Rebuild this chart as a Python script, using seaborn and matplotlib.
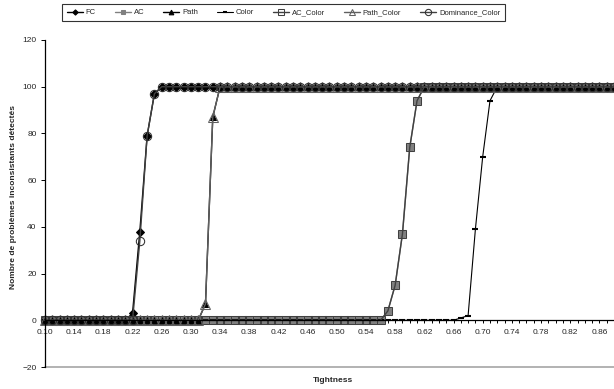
import numpy as np
import matplotlib
matplotlib.use("Agg")
import matplotlib.pyplot as plt
import seaborn as sns

# ---------------- data ----------------
tightness = [round(0.10 + 0.01 * k, 2) for k in range(79)]  # 0.10 .. 0.88 categories

fc = [0] * 12 + [3, 38, 79, 97] + [100] * 63
ac = [0] * 47 + [4, 15, 37, 74, 94] + [100] * 27
path = [0] * 22 + [7, 87] + [100] * 55
color = [0] * 57 + [1, 2, 39, 70, 94] + [100] * 17
ac_color = [0] * 47 + [4, 15, 37, 74, 94] + [100] * 27
path_color = [0] * 22 + [7, 87] + [100] * 55
dominance_color = [0] * 13 + [34, 79, 97] + [100] * 63

series_names = ["FC", "AC", "Path", "Color", "AC_Color", "Path_Color", "Dominance_Color"]
tick_labels = ["%.2f" % t for t in tightness]

# ---------------- style ----------------
sns.set_style("white")
plt.rcParams["font.family"] = ["Liberation Sans", "DejaVu Sans"]

fig = plt.figure(figsize=(6.14, 3.89), dpi=100)
ax = fig.add_axes([45 / 614, 1 - 367 / 389, 1 - 45 / 614, (367 - 40) / 389])

styles = {
    "FC": dict(color="black", marker="D", markerfacecolor="black", markeredgecolor="black", markersize=3.6, lw=1.0),
    "AC": dict(color="#808080", marker="s", markerfacecolor="#808080", markeredgecolor="#808080", markersize=4, lw=1.0),
    "Path": dict(color="black", marker="^", markerfacecolor="black", markeredgecolor="black", markersize=4.5, lw=1.0),
    "Color": dict(color="black", marker="_", markerfacecolor="black", markeredgecolor="black", markersize=4, lw=0.8, markeredgewidth=1.5),
    "AC_Color": dict(color="#404040", marker="s", markerfacecolor="none", markeredgecolor="#404040", markersize=5.5, lw=1.0),
    "Path_Color": dict(color="#606060", marker="^", markerfacecolor="none", markeredgecolor="#606060", markersize=6.5, lw=1.0),
    "Dominance_Color": dict(color="#404040", marker="o", markerfacecolor="none", markeredgecolor="#303030", markersize=6, lw=1.0),
}
values = {
    "FC": fc, "AC": ac, "Path": path, "Color": color,
    "AC_Color": ac_color, "Path_Color": path_color, "Dominance_Color": dominance_color,
}

for name in series_names:
    st = dict(styles[name])
    lw = st.pop("lw")
    sns.lineplot(x=tightness, y=values[name], ax=ax, label=name, linewidth=lw,
                 clip_on=False, legend=False, **st)

# ---------------- axes ----------------
step = 0.01
ax.set_xlim(tightness[0], tightness[0] + 77.6 * step)
ax.set_ylim(-20, 120)
ax.set_yticks([-20, 0, 20, 40, 60, 80, 100, 120])
ax.set_xticks(tightness)
ax.set_xticklabels([lab if k % 4 == 0 else "" for k, lab in enumerate(tick_labels)])

for s in ["top", "right"]:
    ax.spines[s].set_visible(False)
ax.spines["bottom"].set_position(("data", 0))
ax.spines["bottom"].set_color("black")
ax.spines["bottom"].set_linewidth(0.9)
ax.spines["left"].set_color("black")
ax.spines["left"].set_linewidth(0.9)
ax.axhline(-20, color="#a6a6a6", lw=1.2, clip_on=False, zorder=0)

ax.tick_params(axis="x", direction="out", length=2.5, width=0.7, color="black",
               labelsize=6, pad=4, bottom=True)
ax.tick_params(axis="y", direction="out", length=3, width=0.7, color="black",
               labelsize=6, pad=3, left=True)

fig.text(14 / 614, 1 - 197 / 389, "Nombre de problèmes inconsistants détectés",
         rotation=90, ha="center", va="center", fontsize=6, fontweight="bold")
fig.text(333 / 614, 1 - 381 / 389, "Tightness", ha="center", va="center",
         fontsize=6, fontweight="bold")

handles, labels = ax.get_legend_handles_labels()
leg = fig.legend(handles, labels, loc="center", ncol=7,
                 bbox_to_anchor=(283.5 / 614, 1 - 12.5 / 389),
                 fontsize=5.5, frameon=True, fancybox=False, edgecolor="black",
                 handlelength=2.1, handletextpad=0.35, columnspacing=2.5,
                 borderpad=0.6, borderaxespad=0, markerscale=0.75)
leg.get_frame().set_linewidth(0.8)

fig.savefig("out.png", dpi=100, facecolor="white")
